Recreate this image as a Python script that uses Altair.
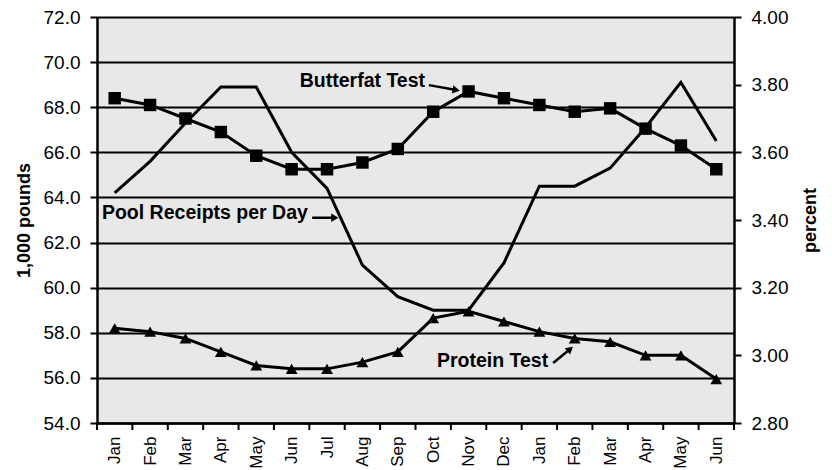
import altair as alt
import pandas as pd

# ---- data ----
months = ["Jan", "Feb", "Mar", "Apr", "May", "Jun", "Jul", "Aug", "Sep",
          "Oct", "Nov", "Dec", "Jan", "Feb", "Mar", "Apr", "May", "Jun"]
receipts = [64.2, 65.6, 67.3, 68.9, 68.9, 66.0, 64.4, 61.0, 59.6,
            59.0, 59.0, 61.1, 64.5, 64.5, 65.3, 67.1, 69.1, 66.5]
butterfat = [3.76, 3.74, 3.70, 3.66, 3.59, 3.55, 3.55, 3.57, 3.61,
             3.72, 3.78, 3.76, 3.74, 3.72, 3.73, 3.67, 3.62, 3.55]
protein = [3.08, 3.07, 3.05, 3.01, 2.97, 2.96, 2.96, 2.98, 3.01,
           3.11, 3.13, 3.10, 3.07, 3.05, 3.04, 3.00, 3.00, 2.93]

left_ticks = [54, 56, 58, 60, 62, 64, 66, 68, 70, 72]
right_ticks = [2.8, 3.0, 3.2, 3.4, 3.6, 3.8, 4.0]

# annotation labels (in month-index / 1,000-pound coordinates)
ann_text = ["Butterfat Test", "Pool Receipts per Day", "Protein Test"]
ann_x = [9.27, 0.14, 12.75]
ann_y = [69.15, 63.3, 56.75]
ann_align = ["right", "left", "right"]
arrow_x = [9.38, 6.08, 12.89]
arrow_x2 = [10.15, 6.72, 13.37]
arrow_y = [68.98, 63.1, 56.66]
arrow_y2 = [68.76, 63.1, 57.28]
arrow_angle = [100, 90, 50]

n = len(months)
df = pd.DataFrame({
    "pos": [i + 0.5 for i in range(n)],
    "month": months,
    "receipts": receipts,
    "butterfat": butterfat,
    "protein": protein,
})
bounds = pd.DataFrame({"pos": list(range(n + 1))})
ann = pd.DataFrame({"text": ann_text, "pos": ann_x, "receipts": ann_y, "align": ann_align})
arrows = pd.DataFrame({"pos": arrow_x, "x2": arrow_x2, "receipts": arrow_y,
                       "y2": arrow_y2, "angle": arrow_angle})
heads = pd.DataFrame({"pos": arrow_x2, "receipts": arrow_y2, "angle": arrow_angle})

FONT = "Liberation Sans"
W, H = 637, 406
xscale = alt.Scale(domain=[0, n], nice=False, zero=False)
lscale = alt.Scale(domain=[54, 72], nice=False, zero=False)
rscale = alt.Scale(domain=[2.8, 4.0], nice=False, zero=False)

label_expr = "[" + ",".join("'%s'" % m for m in months) + "][round(datum.value - 0.5)]"

x_axis = alt.Axis(values=[i + 0.5 for i in range(n)], labelExpr=label_expr,
                  labelAngle=270, ticks=False, tickSize=0, labelPadding=13,
                  grid=False, title=None, domainColor="black", domainWidth=2.5,
                  labelFontSize=17, labelColor="black", labelFont=FONT)

left_axis = alt.Axis(values=left_ticks, format=".1f", grid=True, gridColor="black",
                     gridWidth=2, gridOpacity=1, domainColor="black", domainWidth=2.5,
                     tickColor="black", tickWidth=2, tickSize=7, labelPadding=10,
                     labelFontSize=19, labelColor="black", labelFont=FONT,
                     title="1,000 pounds", titleFontSize=18, titleFontWeight="bold",
                     titleFont=FONT, titleColor="black", titleAngle=270,
                     titleX=-64, titleY=203, titleAlign="center",
                     titleBaseline="bottom")

right_axis = alt.Axis(values=right_ticks, format=".2f", grid=False, orient="right",
                      domainColor="black", domainWidth=2.5, tickColor="black",
                      tickWidth=2, tickSize=7, labelPadding=10, labelFontSize=19,
                      labelColor="black", labelFont=FONT,
                      title="percent", titleFontSize=18, titleFontWeight="bold",
                      titleFont=FONT, titleColor="black", titleAngle=270,
                      titleX=85, titleY=203, titleAlign="center",
                      titleBaseline="bottom")

X = alt.X("pos:Q", scale=xscale, axis=x_axis)
YL = alt.Y("receipts:Q", scale=lscale, axis=left_axis)
YR_bf = alt.Y("butterfat:Q", scale=rscale, axis=right_axis)
YR_pr = alt.Y("protein:Q", scale=rscale, axis=right_axis)

base = alt.Chart(df)

receipts_line = base.mark_line(color="black", strokeWidth=3).encode(x=X, y=YL)

xticks = alt.Chart(bounds).mark_rule(color="black", strokeWidth=2).encode(
    x=X, y=alt.value(H), y2=alt.value(H + 7),
)


def ann_layer(align):
    return alt.Chart(ann).transform_filter(
        alt.datum.align == align
    ).mark_text(fontSize=19.5, fontWeight="bold", font=FONT, color="black",
                baseline="middle", align=align).encode(x=X, y=YL, text="text:N")


arrow_rules = alt.Chart(arrows).mark_rule(color="black", strokeWidth=2.5).encode(
    x=X, x2="x2:Q", y=YL, y2="y2:Q",
)
arrow_heads = alt.Chart(heads).mark_point(shape="triangle-up", filled=True,
                                          color="black", opacity=1, size=70).encode(
    x=X, y=YL, angle=alt.Angle("angle:Q", scale=None),
)

left = alt.layer(receipts_line, xticks, ann_layer("left"), ann_layer("right"),
                 arrow_rules, arrow_heads)

bf_line = base.mark_line(color="black", strokeWidth=3).encode(x=X, y=YR_bf)
bf_pts = base.mark_point(shape="square", filled=True, color="black",
                         opacity=1, size=155).encode(x=X, y=YR_bf)
pr_line = base.mark_line(color="black", strokeWidth=3).encode(x=X, y=YR_pr)
pr_pts = base.mark_point(shape="triangle-up", filled=True, color="black",
                         opacity=1, size=140).encode(x=X, y=YR_pr)
right = alt.layer(bf_line, bf_pts, pr_line, pr_pts)

chart = alt.layer(left, right).resolve_scale(y="independent").properties(
    width=W, height=H,
    autosize=alt.AutoSizeParams(type="none"),
    padding={"left": 89, "top": 9, "right": 90, "bottom": 47},
).configure(font=FONT).configure_view(fill="#e8e8e8", stroke=None)

chart.save("out.html", embed_options={"renderer": "svg", "actions": False})
